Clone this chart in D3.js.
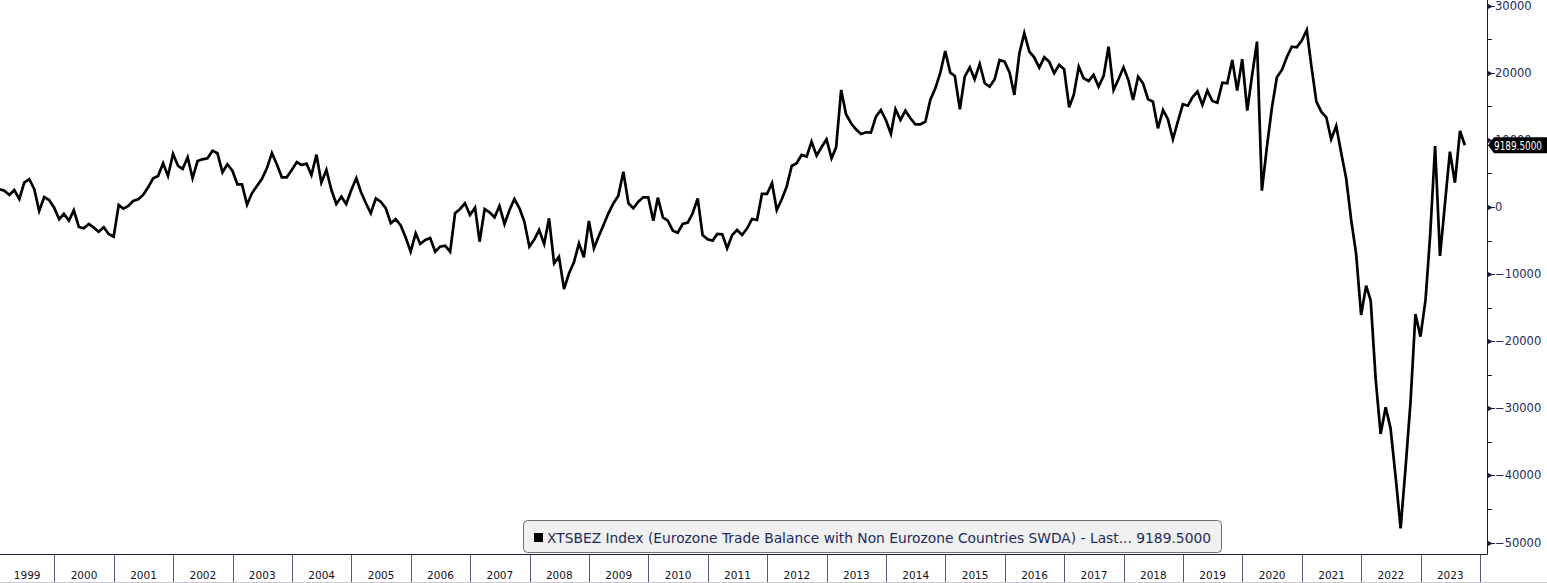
<!DOCTYPE html>
<html>
<head>
<meta charset="utf-8">
<script src="https://cdn.jsdelivr.net/npm/d3@7"></script>
<style>
  html, body { margin: 0; padding: 0; background: #ffffff; }
  svg { display: block; }
</style>
</head>
<body>
<svg id="chart" width="1547" height="583"></svg>
<script>
// ---- Data (Eurozone trade balance with non-Eurozone countries, SWDA, monthly, Jan 1999 - Sep 2023) ----
const startYear = 1999;
const tradeBalance = [
  2640, 2430, 1790, 2530, 1190, 3620, 4130, 2640, -600, 1490, 1040, -100,          // 1999
  -1830, -1040, -2040, -500, -2980, -3180, -2530, -3080, -3680, -3030, -4020, -4420, // 2000
  300, -250, 150, 890, 1140, 1790, 2930, 4280, 4620, 6510, 4620, 7900,              // 2001
  6110, 5660, 7400, 4280, 6850, 7100, 7250, 8390, 8000, 5170, 6360, 5410,           // 2002
  3380, 3380, 340, 2040, 3130, 4170, 5760, 8050, 6360, 4420, 4420, 5510,            // 2003
  6700, 6260, 6450, 4770, 7790, 3620, 5510, 2530, 450, 1540, 450, 2530,             // 2004
  4280, 2280, 550, -940, 1290, 790, -190, -2430, -1830, -2750, -4520, -6660,        // 2005
  -3920, -5510, -4920, -4620, -6660, -5910, -5760, -6660, -940, -300, 550, -1190,   // 2006
  -100, -5170, -300, -790, -1540, 150, -2530, -450, 1190, -190, -2180, -5910,       // 2007
  -4820, -3430, -5510, -1690, -8390, -7400, -12220, -9880, -8240, -5410, -7500, -2090, // 2008
  -6150, -4420, -2680, -940, 550, 1690, 5260, 550, -190, 790, 1440, 1440,           // 2009
  -2040, 1390, -1540, -2040, -3530, -3830, -2530, -2340, -940, 1290, -4170, -4820,  // 2010
  -5010, -4020, -4070, -6150, -4170, -3430, -4170, -3180, -1790, -1940, 1940, 1940, // 2011
  3530, -450, 1140, 3030, 6110, 6510, 7750, 7500, 9730, 7650, 8890, 10080,          // 2012
  7250, 8890, 17430, 13810, 12470, 11570, 10880, 11130, 11070, 13450, 14450, 12960, // 2013
  10880, 14560, 12960, 14350, 13210, 12320, 12320, 12710, 15940, 17680, 19920, 23240, // 2014
  20010, 19520, 14560, 19420, 20810, 19030, 21310, 18430, 17920, 19030, 21900, 21650, // 2015
  20010, 16690, 22900, 25880, 23140, 22300, 20760, 22300, 21650, 19920, 21160, 20520, // 2016
  14860, 16690, 20900, 19180, 18770, 19670, 17920, 19520, 23880, 17430, 19030, 20810, // 2017
  18820, 15940, 19420, 18430, 16050, 15690, 11720, 14450, 13070, 10080, 12710, 15300, // 2018
  15090, 16340, 17180, 15200, 17330, 15790, 15540, 18520, 18430, 21900, 17330, 22010, // 2019
  14350, 19520, 24630, 2430, 8990, 14710, 19320, 20410, 22300, 23880, 23790, 24780, // 2020
  26370, 21010, 15690, 14200, 13360, 10080, 12070, 8000, 4280, -1940, -6900, -16090, // 2021
  -11720, -13960, -25780, -33820, -29850, -32970, -40180, -47870, -38930, -29010, -15940, -19320, // 2022
  -13860, -4420, 9090, -7300, 600, 8240, 3620, 11320, 9189.5                        // 2023
];
const yearLabels = ["1999","2000","2001","2002","2003","2004","2005","2006","2007","2008","2009","2010",
  "2011","2012","2013","2014","2015","2016","2017","2018","2019","2020","2021","2022","2023"];
const yMajorTicks = [30000, 20000, 10000, 0, -10000, -20000, -30000, -40000, -50000];
const yMinorTicks = [25000, 15000, 5000, -5000, -15000, -25000, -35000, -45000];
const seriesName = "XTSBEZ Index (Eurozone Trade Balance with Non Eurozone Countries SWDA) - Last... 9189.5000";
const lastValueLabel = "9189.5000";

// ---- Layout ----
const W = 1547, H = 583;
const plotRight = 1487, plotBottom = 554;
const navy = "#1c1c3e";
const textNavy = "#1c2b5a";

const svg = d3.select("#chart");
svg.append("rect").attr("width", W).attr("height", H).attr("fill", "#ffffff");

// month-end dates for each observation
const points = tradeBalance.map((v, i) => ({ date: new Date(startYear, i + 1, 0), value: v }));

const x = d3.scaleTime()
  .domain([new Date(2000, 0, 1), new Date(2024, 0, 1)])
  .range([54.3, 1480]);
const y = d3.scaleLinear()
  .domain([-50000, 30000])
  .range([542.6, 5.6]);

// ---- Line ----
const plot = svg.append("g");
plot.append("clipPath").attr("id", "clip")
  .append("rect").attr("x", 0).attr("y", 0).attr("width", plotRight).attr("height", plotBottom);

const line = d3.line().x(d => x(d.date)).y(d => y(d.value));
plot.append("path")
  .datum(points)
  .attr("clip-path", "url(#clip)")
  .attr("fill", "none")
  .attr("stroke", "#000000")
  .attr("stroke-width", 2.7)
  .attr("stroke-linejoin", "miter")
  .attr("d", line);

// ---- Frame ----
svg.append("line").attr("x1", 0).attr("x2", plotRight + 0.5)
  .attr("y1", plotBottom + 0.5).attr("y2", plotBottom + 0.5)
  .attr("stroke", navy).attr("stroke-width", 1);
svg.append("line").attr("x1", plotRight + 0.5).attr("x2", plotRight + 0.5)
  .attr("y1", 0).attr("y2", plotBottom + 0.5)
  .attr("stroke", navy).attr("stroke-width", 1);

// ---- Right axis ----
const yAxisG = svg.append("g");
yAxisG.selectAll("path.major").data(yMajorTicks).enter().append("path")
  .attr("d", d => {
    const yy = Math.round(y(d)) + 0.5;
    return `M${plotRight + 1},${yy - 2.5} L${plotRight + 6},${yy} L${plotRight + 1},${yy + 2.5} Z`;
  })
  .attr("fill", navy);
yAxisG.selectAll("line.major").data(yMajorTicks).enter().append("line")
  .attr("x1", plotRight + 1).attr("x2", plotRight + 8)
  .attr("y1", d => Math.round(y(d)) + 0.5).attr("y2", d => Math.round(y(d)) + 0.5)
  .attr("stroke", navy).attr("stroke-width", 1);
yAxisG.selectAll("line.minor").data(yMinorTicks).enter().append("line")
  .attr("x1", plotRight + 1).attr("x2", plotRight + 5)
  .attr("y1", d => Math.round(y(d)) + 0.5).attr("y2", d => Math.round(y(d)) + 0.5)
  .attr("stroke", navy).attr("stroke-width", 1);
yAxisG.selectAll("text").data(yMajorTicks).enter().append("text")
  .attr("x", plotRight + 8)
  .attr("y", d => y(d) + 4)
  .attr("font-family", "'DejaVu Sans', Verdana, sans-serif")
  .attr("font-size", 11.5)
  .attr("fill", textNavy)
  .text(d => d3.format("d")(d));

// last value tag (drawn over the 10000 label, as in the source chart)
const ly = y(tradeBalance[tradeBalance.length - 1]);
svg.append("path")
  .attr("d", `M${plotRight + 1},${ly} L${plotRight + 7},${ly - 8} L${W},${ly - 8} L${W},${ly + 8} L${plotRight + 7},${ly + 8} Z`)
  .attr("fill", "#000000");
svg.append("text")
  .attr("x", plotRight + 7).attr("y", ly + 4.5)
  .attr("font-family", "'DejaVu Sans', Verdana, sans-serif")
  .attr("font-size", 11.5)
  .attr("fill", "#ffffff")
  .attr("textLength", 48).attr("lengthAdjust", "spacingAndGlyphs")
  .text(lastValueLabel);

// ---- Bottom year axis ----
const years = yearLabels.map(s => +s);
const boundaries = years.slice(1).map(yr => new Date(yr, 0, 1)).concat([new Date(2024, 0, 1)]);
svg.selectAll("line.sep").data(boundaries).enter().append("line")
  .attr("x1", d => Math.round(x(d)) + 0.5).attr("x2", d => Math.round(x(d)) + 0.5)
  .attr("y1", plotBottom + 1).attr("y2", H)
  .attr("stroke", "#5a5a78").attr("stroke-width", 1);
svg.append("line").attr("x1", 0).attr("x2", W).attr("y1", H - 0.5).attr("y2", H - 0.5)
  .attr("stroke", "#c8c8cc").attr("stroke-width", 1);
svg.selectAll("text.year").data(yearLabels).enter().append("text")
  .attr("x", d => {
    const a = Math.max(0, x(new Date(+d, 0, 1)));
    const b = Math.min(1480, x(new Date(+d + 1, 0, 1)));
    return (a + b) / 2;
  })
  .attr("y", 579)
  .attr("text-anchor", "middle")
  .attr("font-family", "'DejaVu Sans', Verdana, sans-serif")
  .attr("font-size", 10.5)
  .attr("fill", "#111122")
  .text(d => d);

// ---- Legend ----
const lg = svg.append("g");
lg.append("rect")
  .attr("x", 523.5).attr("y", 520.5).attr("width", 698).attr("height", 32).attr("rx", 4)
  .attr("fill", "#f0f0f0").attr("stroke", "#6e6e6e").attr("stroke-width", 1);
lg.append("rect")
  .attr("x", 534).attr("y", 533).attr("width", 9).attr("height", 9)
  .attr("fill", "#000000");
lg.append("text")
  .attr("x", 547).attr("y", 543)
  .attr("font-family", "'DejaVu Sans', Verdana, sans-serif")
  .attr("font-size", 14)
  .attr("fill", textNavy)
  .attr("textLength", 664).attr("lengthAdjust", "spacingAndGlyphs")
  .text(seriesName);
</script>
</body>
</html>
